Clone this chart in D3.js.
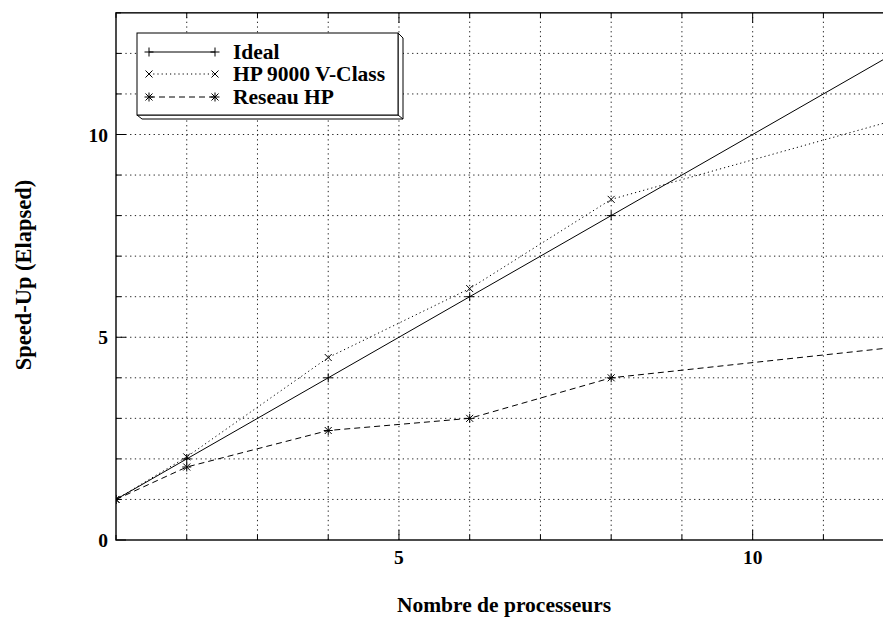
<!DOCTYPE html>
<html>
<head>
<meta charset="utf-8">
<script src="https://cdn.jsdelivr.net/npm/d3@7"></script>
<style>
body { margin: 0; background: #fff; }
svg text { font-family: "Liberation Serif", "Times New Roman", serif; font-weight: bold; fill: #000; }
</style>
</head>
<body>
<svg width="883" height="621"></svg>
<script>
// data
var procs = [1, 2, 4, 6, 8, 12];
var ideal = [1, 2, 4, 6, 8, 12];
var hpV = [1, 2.05, 4.5, 6.2, 8.4, 10.35];
var reseau = [1, 1.8, 2.7, 3, 4, 4.75];
var seriesNames = ['Ideal', 'HP 9000 V-Class', 'Reseau HP'];
var xTickLabels = [5, 10];
var yTickLabels = [0, 5, 10];

var svg = d3.select('svg');
var left = 116, bottom = 540;

var x = d3.scaleLinear().domain([1, 12]).range([left, left + 11 * 70.74]);
var y = d3.scaleLinear().domain([0, 13]).range([bottom, bottom - 13 * 40.55]);
var right = x(12);

svg.append('clipPath').attr('id', 'plot')
  .append('rect').attr('x', left).attr('y', y(13)).attr('width', right - left).attr('height', bottom - y(13));

// grid
var gx = d3.range(2, 12), gy = d3.range(1, 13);
svg.selectAll('.gx').data(gx).enter().append('line')
  .attr('x1', d => x(d)).attr('x2', d => x(d)).attr('y1', y(0)).attr('y2', y(13))
  .attr('stroke', '#222').attr('stroke-width', 1).attr('stroke-dasharray', '1.3,3.4');
svg.selectAll('.gy').data(gy).enter().append('line')
  .attr('y1', d => y(d)).attr('y2', d => y(d)).attr('x1', left).attr('x2', right)
  .attr('stroke', '#222').attr('stroke-width', 1).attr('stroke-dasharray', '1.3,3.4');

// border
svg.append('rect').attr('x', left).attr('y', y(13)).attr('width', right - left).attr('height', bottom - y(13))
  .attr('fill', 'none').attr('stroke', '#000').attr('stroke-width', 1.4);

// ticks (inward, mirrored)
var xt = d3.range(1, 13), yt = d3.range(0, 14);
function tlen(d) { return d % 5 === 0 ? 10 : 5; }
svg.selectAll('.xtb').data(xt).enter().append('line')
  .attr('x1', d => x(d)).attr('x2', d => x(d)).attr('y1', bottom).attr('y2', d => bottom - tlen(d))
  .attr('stroke', '#000');
svg.selectAll('.xtt').data(xt).enter().append('line')
  .attr('x1', d => x(d)).attr('x2', d => x(d)).attr('y1', y(13)).attr('y2', d => y(13) + tlen(d))
  .attr('stroke', '#000');
svg.selectAll('.ytl').data(yt).enter().append('line')
  .attr('y1', d => y(d)).attr('y2', d => y(d)).attr('x1', left).attr('x2', d => left + tlen(d))
  .attr('stroke', '#000');

// tick labels
svg.selectAll('.xl').data(xTickLabels).enter().append('text')
  .attr('x', d => x(d)).attr('y', 564).attr('text-anchor', 'middle')
  .attr('font-size', 19.5).text(d => d);
svg.selectAll('.yl').data(yTickLabels).enter().append('text')
  .attr('x', 108).attr('y', d => y(d) + 7).attr('text-anchor', 'end')
  .attr('font-size', 19.5).text(d => d);

// axis titles
svg.append('text').attr('x', 504).attr('y', 612).attr('text-anchor', 'middle')
  .attr('font-size', 21.5).text('Nombre de processeurs');
svg.append('text').attr('transform', 'translate(31,275) rotate(-90)').attr('text-anchor', 'middle')
  .attr('font-size', 22.5).text('Speed-Up (Elapsed)');

// markers
function marker(g, type, cx, cy) {
  var s = 4.5, d = 3.5;
  if (type === 'plus' || type === 'star') {
    g.append('line').attr('x1', cx - s).attr('x2', cx + s).attr('y1', cy).attr('y2', cy).attr('stroke', '#000');
    g.append('line').attr('x1', cx).attr('x2', cx).attr('y1', cy - s).attr('y2', cy + s).attr('stroke', '#000');
  }
  if (type === 'cross' || type === 'star') {
    g.append('line').attr('x1', cx - d).attr('x2', cx + d).attr('y1', cy - d).attr('y2', cy + d).attr('stroke', '#000');
    g.append('line').attr('x1', cx - d).attr('x2', cx + d).attr('y1', cy + d).attr('y2', cy - d).attr('stroke', '#000');
  }
}

var series = [
  { name: seriesNames[0], vals: ideal, dash: null, mk: 'plus' },
  { name: seriesNames[1], vals: hpV, dash: '1.2,3', mk: 'cross' },
  { name: seriesNames[2], vals: reseau, dash: '6,4', mk: 'star' }
];

var line = d3.line().x(d => x(d[0])).y(d => y(d[1]));
var plot = svg.append('g').attr('clip-path', 'url(#plot)');
series.forEach(function (s) {
  var pts = procs.map((p, i) => [p, s.vals[i]]);
  plot.append('path').attr('d', line(pts)).attr('fill', 'none').attr('stroke', '#000')
    .attr('stroke-width', 1).attr('stroke-dasharray', s.dash);
  var mg = plot.append('g');
  pts.forEach(p => marker(mg, s.mk, x(p[0]), y(p[1])));
});

// legend
var lg = svg.append('g');
lg.append('polygon').attr('points', '398,33 403,38 403,119 142,119 137,115 398,115')
  .attr('fill', '#fff').attr('stroke', '#000');
lg.append('rect').attr('x', 137).attr('y', 33).attr('width', 261).attr('height', 82)
  .attr('fill', '#fff').attr('stroke', '#000');
lg.append('line').attr('x1', 398).attr('y1', 115).attr('x2', 403).attr('y2', 119).attr('stroke', '#000');
var rows = [52, 74, 97];
series.forEach(function (s, i) {
  var ry = rows[i];
  lg.append('line').attr('x1', 149).attr('x2', 215).attr('y1', ry).attr('y2', ry)
    .attr('stroke', '#000').attr('stroke-dasharray', s.dash);
  marker(lg, s.mk, 149, ry);
  marker(lg, s.mk, 215, ry);
  lg.append('text').attr('x', 233).attr('y', ry + 7).attr('font-size', 21.5).text(s.name);
});
</script>
</body>
</html>
